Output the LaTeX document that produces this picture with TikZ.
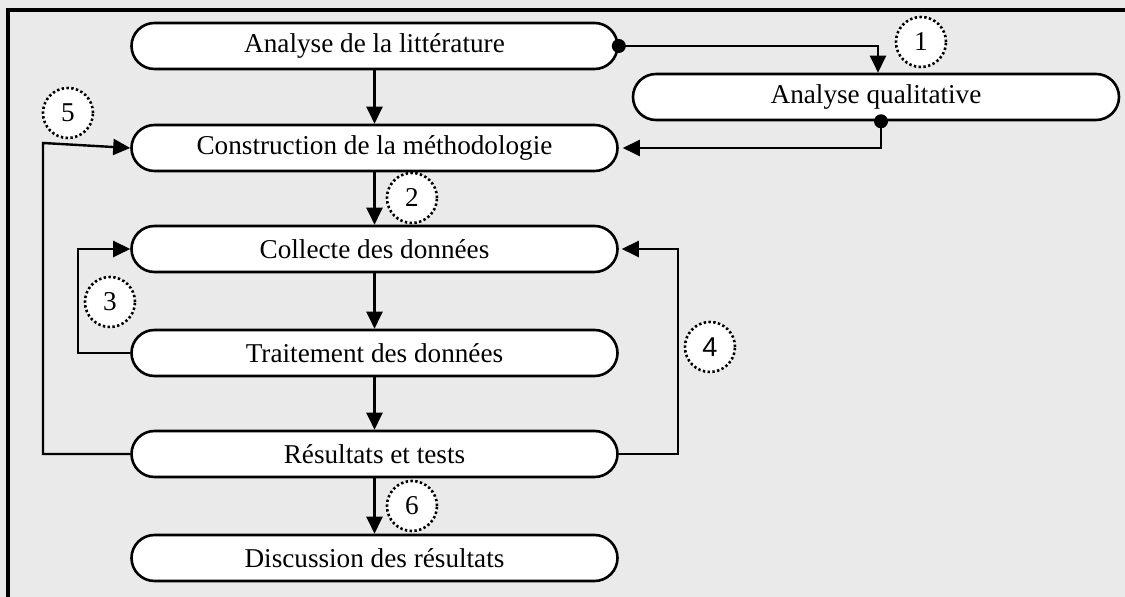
\documentclass[tikz,border=0pt]{standalone}
\usepackage{fontspec}
\setmainfont{Liberation Serif}
\newfontfamily\numsans{Liberation Sans}
\usetikzlibrary{arrows.meta}
\definecolor{panelgray}{HTML}{EAEAEA}
\begin{document}
\begin{tikzpicture}[x=0.5pt,y=-0.5pt,
  stage/.style={draw, line width=1.3pt, fill=white, rounded corners=11.5pt,
    minimum width=243pt, minimum height=23pt, inner sep=0pt,
    font=\fontsize{13.6}{16}\selectfont},
  flow/.style={line width=1.2pt, -{Triangle[length=8.5pt,width=8pt]}},
  tag/.style={circle, draw, fill=white, line width=1.3pt,
    dash pattern=on 1.2pt off 1.2pt, minimum size=25pt, inner sep=0pt,
    font=\fontsize{13.6}{16}\selectfont},
  dot/.style={fill=black}
  ]
% panel and its frame
\fill[panelgray] (0,0) rectangle (1125,597);
\useasboundingbox (0,0) rectangle (1125,597);
\draw[line width=1.8pt] (1125,10) -- (8,10) -- (8,597);

% stages
\node[stage] (lit)   at (374.5,46)  {Analyse de la littérature};
\node[stage] (qual)  at (876,97)    {Analyse qualitative};
\node[stage] (meth)  at (374.5,148) {Construction de la méthodologie};
\node[stage] (coll)  at (374.5,249) {Collecte des données};
\node[stage] (trait) at (374.5,353) {Traitement des données};
\node[stage] (res)   at (374.5,454) {Résultats et tests};
\node[stage] (disc)  at (374.5,558) {Discussion des résultats};

% main sequence
\draw[flow] (lit) -- (meth);
\draw[flow] (meth) -- (coll);
\draw[flow] (coll) -- (trait);
\draw[flow] (trait) -- (res);
\draw[flow] (res) -- (disc);

% qualitative branch
\draw[flow] (lit.east) -| ([xshift=1pt]qual.north);
\draw[flow, shorten >=2pt] ([xshift=2.5pt]qual.south) |- (meth.east);
\fill[dot] (lit.east) circle (3.5pt);
\fill[dot] ([xshift=2.5pt]qual.south) circle (3.5pt);

% feedback loops
\draw[flow] (trait.west) -- ++(-52,0) |- (coll.west);
\draw[flow, shorten >=1.5pt] (res.east) -- ++(59,0) |- (coll.east);
\coordinate (c5) at (43,143);
\draw[flow] (res.west) -| (c5) -- (meth.west);

% step markers
\node[tag] (t1) at (921,42)  {1};
\node[tag] (t2) at (412,198) {2};
\node[tag] (t3) at (110,302) {3};
\node[tag] (t4) at (710,347) {\numsans 4};
\node[tag] (t5) at (68,113)  {5};
\node[tag] (t6) at (412,506) {6};
\end{tikzpicture}
\end{document}
